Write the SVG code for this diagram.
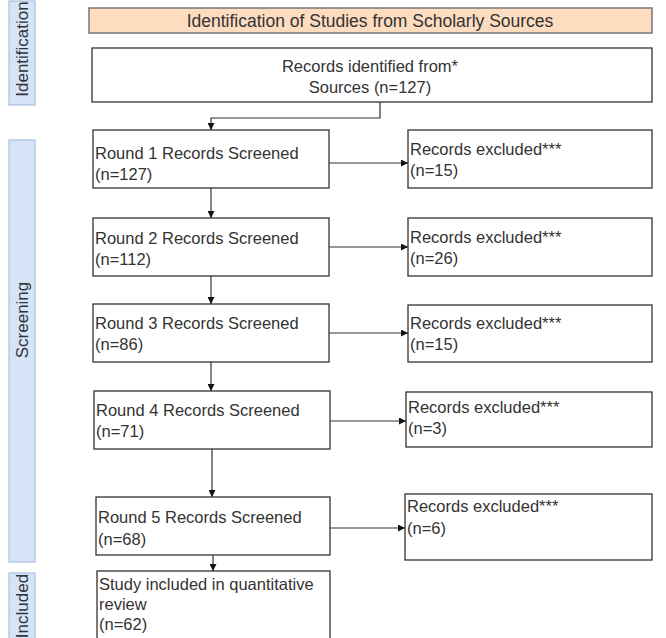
<svg xmlns="http://www.w3.org/2000/svg" width="666" height="638" viewBox="0 0 666 638">
<defs>
<style>
text{font-family:"Liberation Sans",Arial,sans-serif;font-size:16.5px;fill:#333}
text.h{font-size:17.5px}
text.s{font-size:17px}
.box{fill:#fff;stroke:#333;stroke-width:1.3}
.hdr{fill:#fddcc0;stroke:#777;stroke-width:1.5}
.side{fill:#d6e4f8;stroke:#a8c0e0;stroke-width:1.2}
.conn{fill:none;stroke:#333;stroke-width:1.2}
</style>
<marker id="arr" viewBox="0 0 10 10" refX="10" refY="5" markerWidth="7" markerHeight="7" orient="auto" markerUnits="userSpaceOnUse">
<path d="M0,0 L10,5 L0,10 z" fill="#111"/>
</marker>
</defs>
<rect width="666" height="638" fill="#fff"/>

<g id="side-identification">
<rect class="side" x="9" y="1" width="26" height="104"/>
<text class="s" transform="translate(28,49) rotate(-90)" text-anchor="middle">Identification</text>
</g>
<g id="side-screening">
<rect class="side" x="9" y="140" width="26" height="422"/>
<text class="s" transform="translate(28,320) rotate(-90)" text-anchor="middle">Screening</text>
</g>
<g id="side-included">
<rect class="side" x="9" y="573" width="26" height="70"/>
<text class="s" transform="translate(28,606) rotate(-90)" text-anchor="middle">Included</text>
</g>

<g id="header">
<rect class="hdr" x="89" y="8" width="563" height="25"/>
<text class="h" x="370" y="27" text-anchor="middle">Identification of Studies from Scholarly Sources</text>
</g>

<g id="records-identified">
<rect class="box" x="92" y="48" width="560" height="54"/>
<text x="370" y="72" text-anchor="middle">Records identified from*</text>
<text x="370" y="93" text-anchor="middle">Sources (n=127)</text>
</g>

<g id="round1">
<rect class="box" x="93" y="130" width="236" height="58"/>
<text x="95" y="159">Round 1 Records Screened</text>
<text x="95" y="180">(n=127)</text>
</g>
<g id="excluded1">
<rect class="box" x="408" y="130" width="244" height="58"/>
<text x="410" y="155">Records excluded***</text>
<text x="410" y="176">(n=15)</text>
</g>

<g id="round2">
<rect class="box" x="93" y="218" width="236" height="58"/>
<text x="95" y="244">Round 2 Records Screened</text>
<text x="95" y="265">(n=112)</text>
</g>
<g id="excluded2">
<rect class="box" x="408" y="218" width="244" height="58"/>
<text x="410" y="243">Records excluded***</text>
<text x="410" y="264">(n=26)</text>
</g>

<g id="round3">
<rect class="box" x="93" y="304" width="236" height="58"/>
<text x="95" y="329">Round 3 Records Screened</text>
<text x="95" y="350">(n=86)</text>
</g>
<g id="excluded3">
<rect class="box" x="408" y="305" width="244" height="57"/>
<text x="410" y="329">Records excluded***</text>
<text x="410" y="350">(n=15)</text>
</g>

<g id="round4">
<rect class="box" x="94" y="391" width="236" height="58"/>
<text x="96" y="416">Round 4 Records Screened</text>
<text x="96" y="437">(n=71)</text>
</g>
<g id="excluded4">
<rect class="box" x="406" y="392" width="246" height="55"/>
<text x="408" y="413">Records excluded***</text>
<text x="408" y="434">(n=3)</text>
</g>

<g id="round5">
<rect class="box" x="96" y="497" width="234" height="58"/>
<text x="98" y="523">Round 5 Records Screened</text>
<text x="98" y="545">(n=68)</text>
</g>
<g id="excluded5">
<rect class="box" x="405" y="494" width="247" height="66"/>
<text x="407" y="512">Records excluded***</text>
<text x="407" y="534">(n=6)</text>
</g>

<g id="included">
<rect class="box" x="97" y="571" width="233" height="72"/>
<text x="99" y="590">Study included in quantitative</text>
<text x="99" y="610">review</text>
<text x="99" y="630">(n=62)</text>
</g>

<g id="connectors">
<path class="conn" d="M380,102 V118 H211 V130" marker-end="url(#arr)"/>
<path class="conn" d="M211,188 V218" marker-end="url(#arr)"/>
<path class="conn" d="M211,276 V304" marker-end="url(#arr)"/>
<path class="conn" d="M211,362 V391" marker-end="url(#arr)"/>
<path class="conn" d="M212,449 V497" marker-end="url(#arr)"/>
<path class="conn" d="M213,555 V571" marker-end="url(#arr)"/>
<path class="conn" d="M329,163 H408" marker-end="url(#arr)"/>
<path class="conn" d="M329,247 H408" marker-end="url(#arr)"/>
<path class="conn" d="M329,333 H408" marker-end="url(#arr)"/>
<path class="conn" d="M330,421 H406" marker-end="url(#arr)"/>
<path class="conn" d="M330,528 H405" marker-end="url(#arr)"/>
</g>
</svg>
